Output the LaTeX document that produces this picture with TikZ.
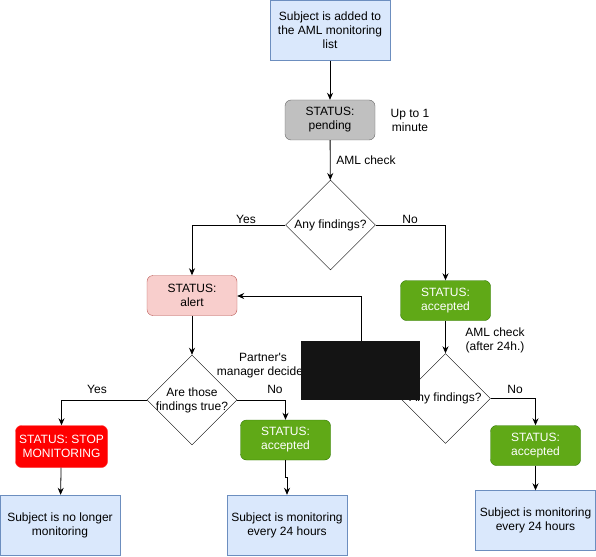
\documentclass[tikz,border=0pt]{standalone}
\usepackage{fontspec}
\setmainfont{Liberation Sans}[Ligatures=TeXOff]
\usetikzlibrary{shapes.geometric,arrows.meta}
\definecolor{bluefill}{HTML}{DAE8FC}
\definecolor{blueline}{HTML}{6C8EBF}
\definecolor{grayfill}{HTML}{C0C0C0}
\definecolor{grayline}{HTML}{666666}
\definecolor{pinkfill}{HTML}{F8CECC}
\definecolor{pinkline}{HTML}{B85450}
\definecolor{greenfill}{HTML}{60A917}
\definecolor{greenline}{HTML}{2D7600}
\definecolor{redfill}{HTML}{FF0000}
\definecolor{redline}{HTML}{FF3333}
\begin{document}
\begin{tikzpicture}[x=1pt,y=-1pt,
  every node/.style={font=\fontsize{12}{14}\selectfont, align=center, inner sep=0pt},
  bluebox/.style={draw=blueline, fill=bluefill, minimum width=120pt, minimum height=60pt},
  status/.style={rounded corners=6pt, minimum width=90pt, minimum height=40pt},
  graybox/.style={status, draw=grayline, fill=grayfill},
  pinkbox/.style={status, draw=pinkline, fill=pinkfill},
  greenbox/.style={status, draw=greenline, fill=greenfill, text=white},
  redbox/.style={status, draw=redline, fill=redfill, text=white, minimum width=92pt, minimum height=42pt},
  decision/.style={diamond, draw, fill=white, minimum width=90pt, minimum height=90pt, aspect=1, inner sep=0pt},
  lbl/.style={font=\fontsize{12}{14}\selectfont},
  conn/.style={draw=black, line width=0.8pt, -{Stealth[length=7pt,width=6pt]}}
]
\useasboundingbox (0,0) rectangle (596,556);

\node[bluebox] (start) at (330,30.5) {Subject is added to\\the AML monitoring\\list};
\node[graybox] (pending) at (330,120) {STATUS:\\pending};
\node[lbl] (uptime) at (410,120) {Up to 1\\minute};
\node[decision] (d1) at (330.5,225) {};
\node[lbl] at (330.5,225) {Any findings?};
\node[pinkbox] (alert) at (192,295.5) {STATUS:\\alert};
\node[greenbox] (acc1) at (445.5,300.5) {STATUS:\\accepted};
\node[decision] (d2) at (192,400) {};
\node[lbl] at (192,400) {Are those\\findings true?};
\node[decision] (d3) at (445.5,398.5) {};
\node[lbl] at (445.5,398.5) {Any findings?};
\node[redbox] (stop) at (61.5,446.5) {STATUS: STOP\\MONITORING};
\node[greenbox] (acc2) at (285.5,440) {STATUS:\\accepted};
\node[greenbox] (acc3) at (535.5,445.5) {STATUS:\\accepted};
\node[bluebox] (nolonger) at (60,525) {Subject is no longer\\monitoring};
\node[bluebox] (mon2) at (287,525) {Subject is monitoring\\every 24 hours};
\node[bluebox] (mon3) at (535.5,520.5) {Subject is monitoring\\every 24 hours};

\draw[conn] (start) -- (pending);
\draw[conn] (pending) -- (d1);
\node[lbl] at (366,160) {AML check};
\draw[conn] (d1.west) -| (alert.north);
\node[lbl] at (246,219) {Yes};
\draw[conn] (d1.east) -| (acc1.north);
\node[lbl] at (410,219) {No};
\draw[conn] (alert) -- (d2);
\draw[conn] (acc1) -- (d3);
\node[lbl] at (495,340) {AML check\\(after 24h.)};
\draw[conn] (d2.west) -| (stop.north);
\node[lbl] at (97,389) {Yes};
\draw[conn] (d2.east) -| (acc2.north);
\node[lbl] at (275,389) {No};
\node[lbl] at (263,366) {Partner's\\manager decides};
\draw[conn] (d3.east) -| (acc3.north);
\node[lbl] at (515,389) {No};
\draw[conn] (stop) -- (nolonger);
\draw[conn] (acc2.south) -- ++(0,17) -| (mon2.north);
\draw[conn] (acc3) -- (mon3);
\coordinate (yesback) at (361,370);
\draw[conn] (yesback) |- (alert.east |- 0,296);

\fill[black!92] (301,341) rectangle (420,400);
\end{tikzpicture}
\end{document}
